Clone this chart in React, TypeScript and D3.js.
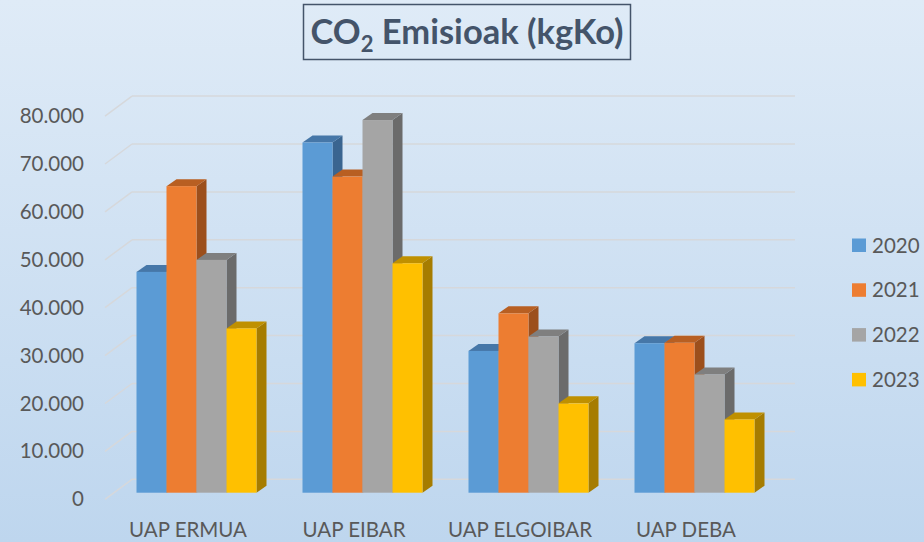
import React from "react";
import * as d3 from "d3";

const categories = ["UAP ERMUA", "UAP EIBAR", "UAP ELGOIBAR", "UAP DEBA"];
const seriesNames = ["2020", "2021", "2022", "2023"];
const values2020 = [46100, 73100, 29600, 31200];
const values2021 = [64000, 66000, 37450, 31300];
const values2022 = [48600, 77800, 32600, 24700];
const values2023 = [34300, 47900, 18650, 15300];
const yTicks = [0, 10000, 20000, 30000, 40000, 50000, 60000, 70000, 80000];
const tickLabels = ["0", "10.000", "20.000", "30.000", "40.000", "50.000", "60.000", "70.000", "80.000"];

const seriesValues = [values2020, values2021, values2022, values2023];
const frontColors = ["#5B9BD5", "#ED7D31", "#A5A5A5", "#FFC000"];
const topColors = ["#4677A8", "#B85F22", "#7F7F7F", "#BF9000"];
const sideColors = ["#3A6590", "#9C4F1C", "#6B6B6B", "#A67C00"];

const FONT = "Lato, 'Open Sans', sans-serif";
const TEXT = "#595959";

export default function App() {
  const W = 924, H = 542;
  const barBase = 492.7;
  const gridBase = 479.3;
  const labelBase = 499.3;
  const wallX0 = 105, wallX1 = 132, gridX1 = 795;
  const dx = 10, dy = -7;

  const h = d3.scaleLinear().domain([0, 80000]).range([0, 383.2]);
  const x0 = d3.scaleBand<string>().domain(categories).range([113.5, 777.5])
    .paddingInner(46 / 166).paddingOuter(23 / 166);
  const x1 = d3.scaleBand<string>().domain(seriesNames).range([0, x0.bandwidth()]);
  const floor = d3.scaleBand<string>().domain(categories).range([105, 769]);

  return (
    <svg width={W} height={H} style={{ position: "absolute", left: 0, top: 0 }}>
      <defs>
        <linearGradient id="bg" x1="0" y1="0" x2="0" y2="1">
          <stop offset="0" stopColor="#DFEBF7" />
          <stop offset="1" stopColor="#BED6EE" />
        </linearGradient>
      </defs>
      <rect x={0} y={0} width={W} height={H} fill="url(#bg)" />

      {/* title */}
      <rect x={303.5} y={4.5} width={327} height={55} fill="none" stroke="#44546A" strokeWidth={1.5} />
      <text x={467} y={44} textAnchor="middle" fontFamily={FONT} fontWeight={700} fontSize={34.5} fill="#44546A">
        CO<tspan fontSize={22} dy={8}>2</tspan><tspan dy={-8}> Emisioak (kgKo)</tspan>
      </text>

      {/* gridlines and left wall */}
      {yTicks.map((t) => (
        <g key={"g" + t}>
          <line x1={wallX0} y1={labelBase - h(t)} x2={wallX1} y2={gridBase - h(t)} stroke="#D6D8DB" strokeWidth={1.5} />
          <line x1={wallX1} y1={gridBase - h(t)} x2={gridX1} y2={gridBase - h(t)} stroke="#D6D8DB" strokeWidth={1.5} />
        </g>
      ))}

      {/* y labels */}
      {yTicks.map((t, i) => (
        <text key={"l" + t} x={84} y={labelBase - h(t) + 7} textAnchor="end" fontFamily={FONT} fontSize={20.5} fill={TEXT}>
          {tickLabels[i]}
        </text>
      ))}

      {/* bars */}
      {categories.map((c, ci) => (
        <g key={c}>
          {seriesNames.map((s, si) => {
            const v = seriesValues[si][ci];
            const x = (x0(c) as number) + (x1(s) as number);
            const w = x1.bandwidth();
            const yt = barBase - h(v);
            const yb = barBase;
            const side = [[x + w, yt], [x + w + dx, yt + dy], [x + w + dx, yb + dy], [x + w, yb]];
            const top = [[x, yt], [x + dx, yt + dy], [x + w + dx, yt + dy], [x + w, yt]];
            return (
              <g key={s}>
                <polygon points={side.map((p) => p.join(",")).join(" ")} fill={sideColors[si]} />
                <polygon points={top.map((p) => p.join(",")).join(" ")} fill={topColors[si]} />
                <rect x={x} y={yt} width={w} height={yb - yt} fill={frontColors[si]} />
              </g>
            );
          })}
        </g>
      ))}

      {/* category labels */}
      {categories.map((c) => (
        <text key={"c" + c} x={(floor(c) as number) + floor.bandwidth() / 2} y={537} textAnchor="middle"
          fontFamily={FONT} fontSize={20.5} fill={TEXT}>
          {c}
        </text>
      ))}

      {/* legend */}
      {seriesNames.map((s, i) => (
        <g key={"lg" + s} transform={`translate(852, ${238.5 + i * 44.8})`}>
          <rect x={0} y={0} width={14} height={13.5} fill={frontColors[i]} />
          <text x={20} y={14} fontFamily={FONT} fontSize={20.5} fill={TEXT}>{s}</text>
        </g>
      ))}
    </svg>
  );
}
